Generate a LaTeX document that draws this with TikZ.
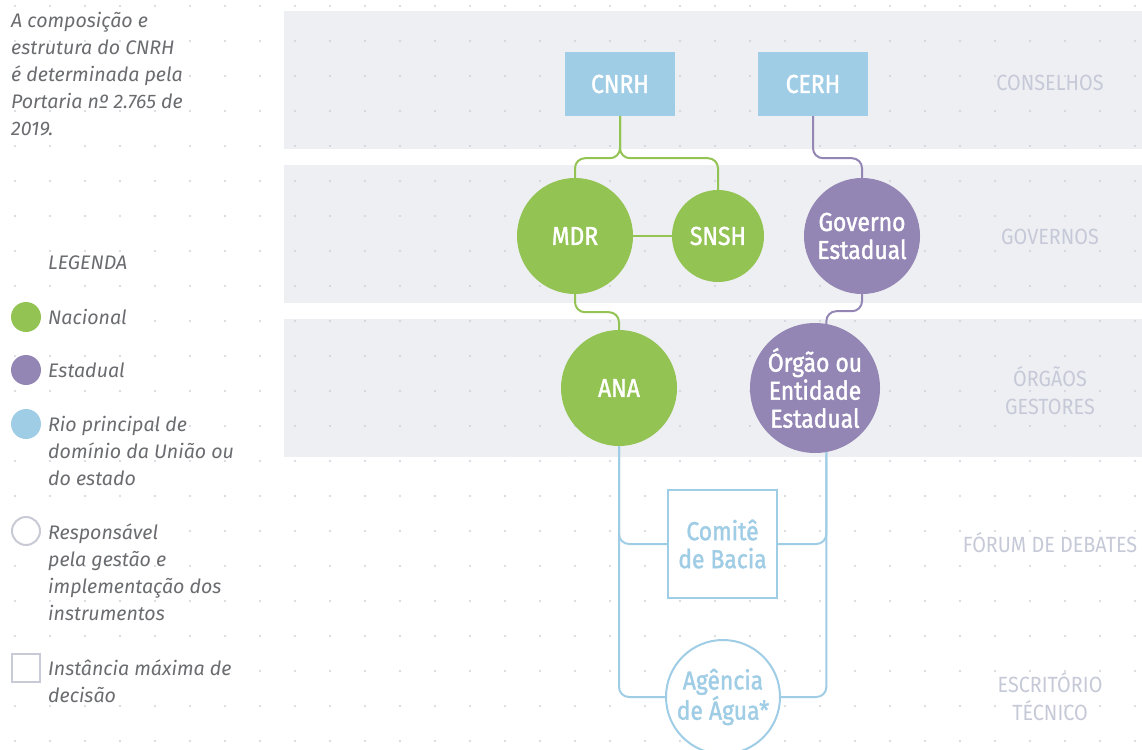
\documentclass[tikz,border=0pt]{standalone}
\usepackage{fontspec}
\setmainfont{Fira Sans}[FakeStretch=0.9]
\newfontfamily\nodefont{Fira Sans}[FakeStretch=0.88,FakeBold=1.5]
\newfontfamily\leftfont{Fira Sans}
\definecolor{gr}{HTML}{92C353}
\definecolor{pu}{HTML}{9486B4}
\definecolor{lb}{HTML}{A0CDE6}
\definecolor{bandc}{HTML}{EEEFF3}
\definecolor{labc}{HTML}{C6C9D7}
\definecolor{txtc}{HTML}{6B6C70}
\definecolor{dotc}{HTML}{D0D2DA}
\definecolor{lgc}{HTML}{C8CAD6}
\begin{document}
\begin{tikzpicture}[x=1pt,y=-1pt,
  nodetext/.style={text=white, align=center, font=\nodefont\fontsize{26}{28}\selectfont},
  council/.style={nodetext, fill=lb, minimum width=110pt, minimum height=64pt, inner sep=0pt},
  natl/.style={nodetext, circle, fill=gr, inner sep=0pt},
  estd/.style={nodetext, circle, fill=pu, inner sep=0pt},
  river/.style={nodetext, text=lb, draw=lb, line width=2pt, fill=white, inner sep=0pt},
  band/.style={fill=bandc},
  sidelabel/.style={text=labc, align=center, font=\fontsize{22}{28}\selectfont},
  lefttext/.style={text=txtc, align=left, anchor=west, inner sep=0pt, font=\leftfont\fontsize{19.6}{27}\selectfont\itshape},
  gline/.style={draw=gr, line width=2pt, rounded corners=10pt},
  pline/.style={draw=pu, line width=2pt, rounded corners=10pt},
  bline/.style={draw=lb, line width=2pt, rounded corners=10pt},
  legdot/.style={circle, minimum size=30pt, inner sep=0pt}
]
\useasboundingbox (0,0) rectangle (1142,749);
\clip (0,0) rectangle (1142,749);
\fill[white] (0,0) rectangle (1142,749);
% bands
\fill[band] (284,11) rectangle (1142,149);
\fill[band] (284,165) rectangle (1142,303);
\fill[band] (284,319) rectangle (1142,457);
% dot grid
\foreach \i in {0,...,32}{
  \foreach \j in {0,...,21}{
    \fill[dotc] (15+35*\i, 6+35*\j) circle (1.1);
  }
}
% side labels
\node[sidelabel] (sConselhos) at (1050,83) {CONSELHOS};
\node[sidelabel] (sGovernos) at (1050,237) {GOVERNOS};
\node[sidelabel] (sOrgaos) at (1050,391) {ÓRGÃOS\\GESTORES};
\node[sidelabel] (sForum) at (1050,543) {FÓRUM DE DEBATES};
\node[sidelabel] (sEscr) at (1050,697) {ESCRITÓRIO\\TÉCNICO};
% main nodes
\node[council] (CNRH) at (620,84) {CNRH};
\node[council] (CERH) at (813,84) {CERH};
\node[natl, minimum size=116pt] (MDR) at (575,236) {MDR};
\node[natl, minimum size=92pt] (SNSH) at (718,236) {SNSH};
\node[estd, minimum size=116pt] (GOV) at (862,236) {Governo\\Estadual};
\node[natl, minimum size=116pt] (ANA) at (619,388) {ANA};
\node[estd, minimum size=130pt] (ORG) at (815,388) {Órgão ou\\Entidade\\Estadual};
\node[river, minimum width=109pt, minimum height=108pt] (COM) at (722.5,544) {Comitê\\de Bacia};
\node[river, circle, minimum size=114pt] (AGE) at (723,697) {Agência\\de Água*};
% connectors
\draw[gline] (CNRH.south) -- ++(0,42) -| (MDR.north);
\draw[gline] (CNRH.south) -- ++(0,42) -| (SNSH.north);
\draw[gline] (MDR.east) -- (SNSH.west);
\draw[gline] (MDR.south) -- ++(0,18) -| (ANA.north);
\draw[pline] (CERH.south) -- ++(0,42) -| (GOV.north);
\draw[pline] (GOV.south) -- ++(0,17) -| (ORG.80);
\draw[bline] (ANA.south) |- (COM.west);
\draw[bline] (ANA.south) |- (AGE.west);
\draw[bline] (ORG.-80) |- (COM.east);
\draw[bline] (ORG.-80) |- (AGE.east);
% left text
\node[lefttext] (intro) at (11,74) {A composição e\\estrutura do CNRH\\é determinada pela\\Portaria nº 2.765 de\\2019.};
\node[lefttext] (legtitle) at (48,263) {LEGENDA};
\node[legdot, fill=gr] (ldot1) at (26,317) {};
\node[lefttext] (lt1) at (48,317) {Nacional};
\node[legdot, fill=pu] (ldot2) at (26,370) {};
\node[lefttext] (lt2) at (48,370) {Estadual};
\node[legdot, fill=lb] (ldot3) at (26,424) {};
\node[lefttext] (lt3) at (48,451) {Rio principal de\\domínio da União ou\\do estado};
\node[legdot, draw=lgc, line width=2pt, fill=white, minimum size=28pt] (ldot4) at (26,531) {};
\node[lefttext] (lt4) at (48,572) {Responsável\\pela gestão e\\implementação dos\\instrumentos};
\node[draw=lgc, line width=2.5pt, fill=white, minimum size=28pt, inner sep=0pt] (lsq) at (26,668) {};
\node[lefttext] (lt5) at (48,681) {Instância máxima de\\decisão};
\end{tikzpicture}
\end{document}
